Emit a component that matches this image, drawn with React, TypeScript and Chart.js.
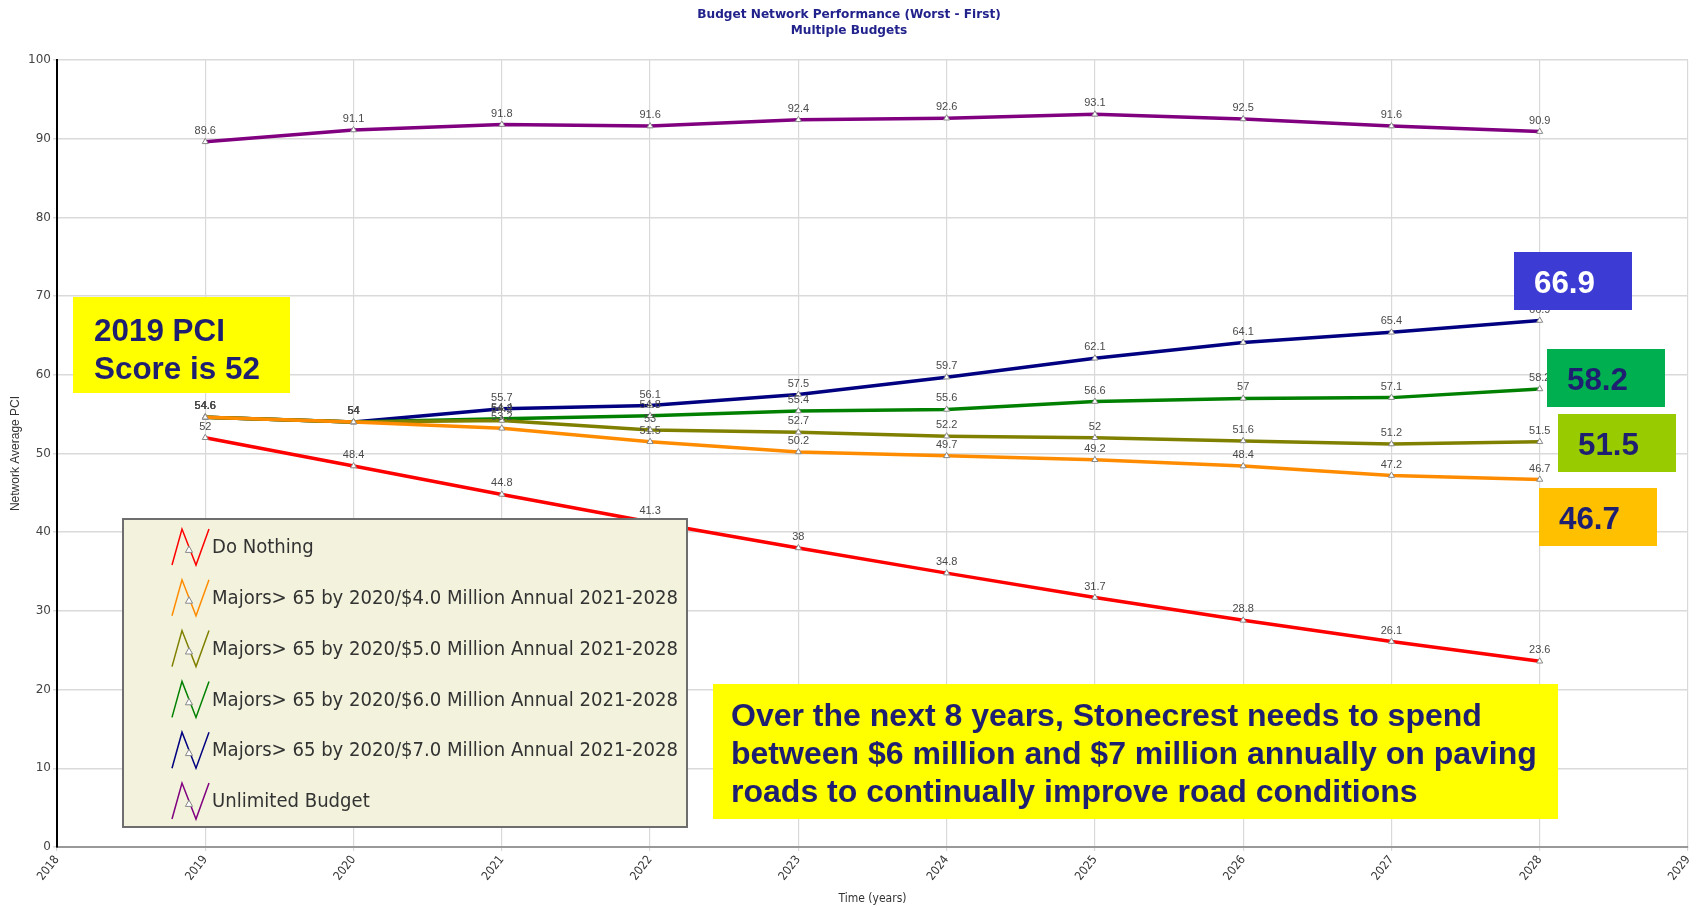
import { useEffect, useRef } from 'react';
import { Chart, registerables } from 'chart.js';

Chart.register(...registerables);

const titleLines = ['Budget Network Performance (Worst - First)', 'Multiple Budgets'];
const xAxisTitle = 'Time (years)';
const yAxisTitle = 'Network Average PCI';

const years = [2019, 2020, 2021, 2022, 2023, 2024, 2025, 2026, 2027, 2028];
const doNothing = [52, 48.4, 44.8, 41.3, 38, 34.8, 31.7, 28.8, 26.1, 23.6];
const majors4M = [54.6, 54, 53.2, 51.5, 50.2, 49.7, 49.2, 48.4, 47.2, 46.7];
const majors5M = [54.6, 54, 54.2, 53, 52.7, 52.2, 52, 51.6, 51.2, 51.5];
const majors6M = [54.6, 54, 54.4, 54.8, 55.4, 55.6, 56.6, 57, 57.1, 58.2];
const majors7M = [54.6, 54, 55.7, 56.1, 57.5, 59.7, 62.1, 64.1, 65.4, 66.9];
const unlimited = [89.6, 91.1, 91.8, 91.6, 92.4, 92.6, 93.1, 92.5, 91.6, 90.9];

const seriesNames = [
  'Do Nothing',
  'Majors> 65 by 2020/$4.0 Million Annual 2021-2028',
  'Majors> 65 by 2020/$5.0 Million Annual 2021-2028',
  'Majors> 65 by 2020/$6.0 Million Annual 2021-2028',
  'Majors> 65 by 2020/$7.0 Million Annual 2021-2028',
  'Unlimited Budget',
];
const seriesValues = [doNothing, majors4M, majors5M, majors6M, majors7M, unlimited];
const seriesColors = ['#ff0000', '#ff8c00', '#808000', '#008000', '#000080', '#800080'];

const pciNote = ['2019 PCI', 'Score is 52'];
const spendNote = [
  'Over the next 8 years, Stonecrest needs to spend',
  'between $6 million and $7 million annually on paving',
  'roads to continually improve road conditions',
];
const callouts = ['66.9', '58.2', '51.5', '46.7'];

const NAVY = '#1f1f72';

function fitFont(ctx: CanvasRenderingContext2D, text: string, target: number, weight: string, family: string) {
  ctx.font = `${weight} 20px ${family}`;
  const w = ctx.measureText(text).width;
  return Math.max(6, (20 * target) / w);
}

function drawTriangle(ctx: CanvasRenderingContext2D, x: number, y: number, r: number) {
  ctx.beginPath();
  ctx.moveTo(x, y - r);
  ctx.lineTo(x + r * 0.9, y + r * 0.6);
  ctx.lineTo(x - r * 0.9, y + r * 0.6);
  ctx.closePath();
  ctx.fillStyle = '#ffffff';
  ctx.fill();
  ctx.strokeStyle = '#888888';
  ctx.lineWidth = 1;
  ctx.stroke();
}

const overlayPlugin = {
  id: 'overlay',
  afterDatasetsDraw(chart: any) {
    const ctx: CanvasRenderingContext2D = chart.ctx;
    ctx.save();
    ctx.font = '11px "Liberation Sans", Arial, sans-serif';
    ctx.fillStyle = '#4a4a4a';
    ctx.textAlign = 'center';
    ctx.textBaseline = 'middle';
    chart.data.datasets.forEach((ds: any, i: number) => {
      const meta = chart.getDatasetMeta(i);
      meta.data.forEach((pt: any, j: number) => {
        ctx.fillText(String(seriesValues[i][j]), pt.x, pt.y - 11);
      });
    });
    ctx.restore();
  },
  afterDraw(chart: any) {
    const ctx: CanvasRenderingContext2D = chart.ctx;
    ctx.save();

    // Title
    ctx.fillStyle = '#22228c';
    const titleFam = '"DejaVu Sans", Verdana, sans-serif';
    const titleSize = fitFont(ctx, titleLines[0], 304, 'bold', titleFam);
    ctx.font = `bold ${titleSize}px ${titleFam}`;
    ctx.textAlign = 'center';
    ctx.textBaseline = 'middle';
    ctx.fillText(titleLines[0], 849, 15);
    ctx.fillText(titleLines[1], 849, 31);

    // Legend
    ctx.fillStyle = '#f3f3dd';
    ctx.fillRect(123, 519, 564, 308);
    ctx.strokeStyle = '#6e6e6e';
    ctx.lineWidth = 2;
    ctx.strokeRect(123, 519, 564, 308);
    const legFam = '"DejaVu Sans Condensed", "DejaVu Sans", Tahoma, sans-serif';
    const legSize = fitFont(ctx, seriesNames[1], 466, 'normal', legFam);
    seriesNames.forEach((name, i) => {
      const cy = 547 + i * 50.8;
      ctx.beginPath();
      ctx.moveTo(172, cy + 18);
      ctx.lineTo(182, cy - 18);
      ctx.lineTo(196, cy + 18);
      ctx.lineTo(209, cy - 18);
      ctx.strokeStyle = seriesColors[i];
      ctx.lineWidth = 1.5;
      ctx.stroke();
      drawTriangle(ctx, 189, cy + 3, 4);
      ctx.fillStyle = '#333333';
      ctx.font = `normal ${legSize}px ${legFam}`;
      ctx.textAlign = 'left';
      ctx.textBaseline = 'middle';
      ctx.fillText(name, 212, cy + 1);
    });

    const boldFam = '"Liberation Sans", Arial, sans-serif';

    // PCI note
    ctx.fillStyle = '#ffff00';
    ctx.fillRect(73, 297, 217, 96);
    const pciSize = fitFont(ctx, pciNote[0], 131, 'bold', boldFam);
    ctx.font = `bold ${pciSize}px ${boldFam}`;
    ctx.fillStyle = NAVY;
    ctx.textAlign = 'left';
    ctx.textBaseline = 'alphabetic';
    ctx.fillText(pciNote[0], 94, 341);
    ctx.fillText(pciNote[1], 94, 379);

    // Spend note
    ctx.fillStyle = '#ffff00';
    ctx.fillRect(713, 684, 845, 135);
    const spendSize = fitFont(ctx, spendNote[1], 806, 'bold', boldFam);
    ctx.font = `bold ${spendSize}px ${boldFam}`;
    ctx.fillStyle = NAVY;
    spendNote.forEach((line, i) => ctx.fillText(line, 731, 726 + i * 38));

    // Callouts
    const boxes = [
      { x: 1514, y: 252, fill: '#3c3cd4', color: '#ffffff' },
      { x: 1547, y: 349, fill: '#00b050', color: NAVY },
      { x: 1558, y: 414, fill: '#99cc00', color: NAVY },
      { x: 1539, y: 488, fill: '#ffc000', color: NAVY },
    ];
    const calloutSize = fitFont(ctx, callouts[0], 61, 'bold', boldFam);
    boxes.forEach((b, i) => {
      ctx.fillStyle = b.fill;
      ctx.fillRect(b.x, b.y, 118, 58);
      ctx.fillStyle = b.color;
      ctx.font = `bold ${calloutSize}px ${boldFam}`;
      ctx.textBaseline = 'alphabetic';
      ctx.fillText(callouts[i], b.x + 20, b.y + 41);
    });

    ctx.restore();
  },
};

export default function App() {
  const canvasRef = useRef<HTMLCanvasElement | null>(null);

  useEffect(() => {
    document.body.style.margin = '0';
    const canvas = canvasRef.current;
    if (!canvas) return;
    const datasets = seriesNames.map((name, i) => ({
      label: name,
      data: years.map((yr, j) => ({ x: yr, y: seriesValues[i][j] })),
      borderColor: seriesColors[i],
      backgroundColor: '#ffffff',
      borderWidth: 3.5,
      pointStyle: 'triangle',
      pointRadius: 3.5,
      pointBorderColor: '#888888',
      pointBorderWidth: 1,
      pointBackgroundColor: '#ffffff',
      tension: 0,
      fill: false,
    }));
    const chart = new Chart(canvas, {
      type: 'line',
      data: { datasets },
      plugins: [overlayPlugin],
      options: {
        animation: false,
        responsive: true,
        maintainAspectRatio: false,
        layout: { padding: { top: 60, right: 18, left: 0, bottom: 0 } },
        plugins: {
          legend: { display: false },
          tooltip: { enabled: false },
          title: { display: false },
        },
        scales: {
          x: {
            type: 'linear',
            min: 2018,
            max: 2029,
            afterFit: (scale: any) => {
              scale.height = 60;
            },
            ticks: {
              stepSize: 1,
              minRotation: 52,
              maxRotation: 52,
              color: '#333333',
              font: { family: '"DejaVu Sans Condensed", "DejaVu Sans", Tahoma, sans-serif', size: 12 },
              callback: (v: any) => String(v),
              padding: 2,
            },
            grid: { color: '#d9d9d9', lineWidth: 1.2, tickLength: 4 },
            border: { color: '#999999', width: 2 },
            title: {
              display: true,
              text: xAxisTitle,
              color: '#333333',
              font: { family: '"DejaVu Sans Condensed", "DejaVu Sans", Tahoma, sans-serif', size: 12 },
              padding: { top: 0, bottom: 1 },
            },
          },
          y: {
            min: 0,
            max: 100,
            afterFit: (scale: any) => {
              scale.width = 57;
            },
            ticks: {
              stepSize: 10,
              color: '#444444',
              font: { family: '"DejaVu Sans", Verdana, sans-serif', size: 12 },
              padding: 2,
            },
            grid: { color: '#dadada', lineWidth: 1.5, tickLength: 4 },
            border: { color: '#000000', width: 2 },
            title: {
              display: true,
              text: yAxisTitle,
              color: '#333333',
              font: { family: '"Liberation Sans Narrow", "Liberation Sans", Arial, sans-serif', size: 12 },
              padding: { top: 8, bottom: 2 },
            },
          },
        },
      },
    });
    return () => chart.destroy();
  }, []);

  return (
    <div style={{ position: 'relative', width: 1706, height: 907 }}>
      <canvas ref={canvasRef} />
    </div>
  );
}
